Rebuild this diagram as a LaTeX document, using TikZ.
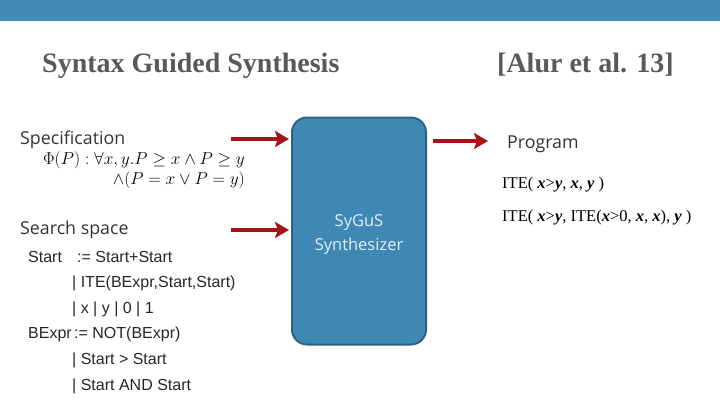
\documentclass[tikz,border=0pt]{standalone}
\usepackage{fontspec}
\setmainfont{Liberation Serif}
\newfontfamily\segoe{Open Sans}
\newfontfamily\arialf{Liberation Sans}
\usetikzlibrary{arrows.meta}
\definecolor{barblue}{RGB}{66,139,180}
\definecolor{boxblue}{RGB}{64,136,180}
\definecolor{boxedge}{RGB}{46,98,133}
\definecolor{arrred}{RGB}{165,18,24}
\definecolor{titlegray}{RGB}{89,89,89}
\definecolor{boxtext}{RGB}{225,240,248}
\begin{document}
\begin{tikzpicture}[x=1pt,y=-1pt,
  titletext/.style={anchor=base west,inner sep=0pt,font=\fontsize{28}{30}\selectfont\bfseries,text=titlegray},
  labeltext/.style={anchor=base west,inner sep=0pt,font=\segoe\fontsize{17.8}{20}\selectfont,text=black!80},
  gramtext/.style={anchor=base west,inner sep=0pt,font=\arialf\fontsize{16}{18}\selectfont,text=black!85},
  progtext/.style={anchor=base west,inner sep=0pt,font=\fontsize{16.5}{18}\selectfont},
  mathtext/.style={anchor=base east,inner sep=0pt,font=\fontsize{18}{20}\selectfont},
  redarrow/.style={draw=arrred,line width=4.5pt,-{Stealth[length=14pt,width=16pt,inset=3pt]}},
  synthbox/.style={draw=boxedge,line width=2pt,fill=boxblue,rounded corners=15pt,minimum width=134pt,minimum height=227pt,inner sep=0pt}
]
\useasboundingbox (0,0) rectangle (720,405);
\fill[barblue] (0,0) rectangle (720,21);

\node[titletext] (title) at (42,72) {Syntax Guided Synthesis};
\node[titletext] (cite) at (497,72) {[Alur et al. 13]};

\node[synthbox] (box) at (359,231) {};
\node[anchor=base,inner sep=0pt,font=\segoe\fontsize{16.5}{18}\selectfont,text=boxtext] (sy1) at (359,226) {SyGuS};
\node[anchor=base,inner sep=0pt,font=\segoe\fontsize{16.5}{18}\selectfont,text=boxtext] (sy2) at (359,250) {Synthesizer};

\node[labeltext] (spec) at (20,144) {Specification};
\node[mathtext] (f1) at (245,164.5) {$\Phi(P) : \forall x, y. P \geq x \wedge P \geq y$};
\node[mathtext] (f2) at (245,184) {$\wedge(P = x \vee P = y)$};

\node[labeltext] (search) at (20,234) {Search space};
\node[gramtext] (g1a) at (28,262) {Start};
\node[gramtext] (g1b) at (77,262) {:= Start+Start};
\node[gramtext] (g2) at (72,287.5) {| ITE(BExpr,Start,Start)};
\node[gramtext] (g3) at (72,313) {| x | y | 0 | 1};
\node[gramtext] (g4a) at (28,338.5) {BExpr};
\node[gramtext] (g4b) at (74,338.5) {:= NOT(BExpr)};
\node[gramtext] (g5) at (72,364) {| Start > Start};
\node[gramtext] (g6) at (72,390) {| Start AND Start};

\node[labeltext] (prog) at (507,148) {Program};
\node[progtext] (p1) at (502,188) {ITE( \textbf{\textit{x}}>\textbf{\textit{y}}, \textbf{\textit{x}}, \textbf{\textit{y}} )};
\node[progtext] (p2) at (502,221.5) {ITE( \textbf{\textit{x}}>\textbf{\textit{y}}, ITE(\textbf{\textit{x}}>0, \textbf{\textit{x}}, \textbf{\textit{x}}), \textbf{\textit{y}} )};

\coordinate (a1s) at (231,139);
\coordinate (a1e) at (289,139);
\coordinate (a2s) at (231,230);
\coordinate (a2e) at (289,230);
\coordinate (a3s) at (433,141);
\coordinate (a3e) at (488,141);
\draw[redarrow] (a1s) -- (a1e);
\draw[redarrow] (a2s) -- (a2e);
\draw[redarrow] (a3s) -- (a3e);
\end{tikzpicture}
\end{document}
